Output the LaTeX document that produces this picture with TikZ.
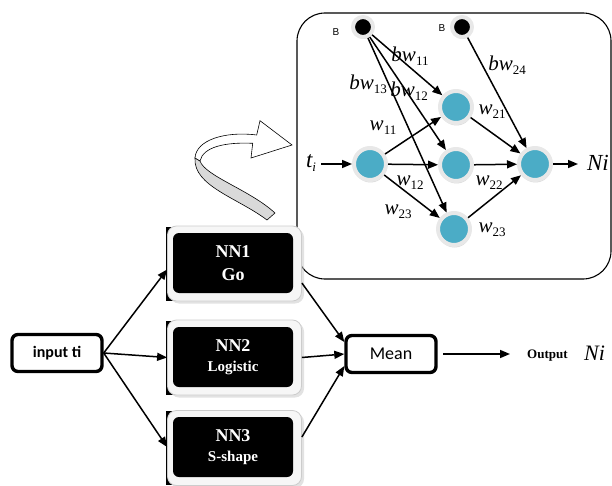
\documentclass[tikz,border=0pt]{standalone}
\usepackage{fontspec}
\setmainfont{Liberation Serif}
\newfontfamily\carl{Carlito}
\newfontfamily\arl{Liberation Sans}
\usetikzlibrary{arrows.meta,shadows}
\definecolor{nncyan}{RGB}{75,172,198}
\definecolor{ringgray}{RGB}{232,232,232}
\newcommand{\wl}[2]{{\itshape #1}\raisebox{-0.4ex}{\fontsize{13}{13}\selectfont #2}}
\begin{document}
\begin{tikzpicture}[x=1pt,y=-1pt,
  arr/.style={-{Triangle[length=10pt,width=8pt]}, line width=1.5pt},
  neuron/.style={circle, fill=nncyan, draw=ringgray, line width=4pt, minimum size=32pt, inner sep=0pt,
     drop shadow={shadow xshift=0.5pt, shadow yshift=-2.5pt, fill=gray!60}},
  bias/.style={circle, fill=black, draw=ringgray, line width=4pt, minimum size=20pt, inner sep=0pt,
     drop shadow={shadow xshift=0.5pt, shadow yshift=-2pt, fill=gray!60}},
  lab/.style={inner sep=0pt, font=\fontsize{21}{21}\selectfont},
  blab/.style={inner sep=0pt, font=\arl\fontsize{10}{10}\selectfont},
  thickbox/.style={draw, line width=3.4pt, rounded corners=6pt, minimum width=90pt, minimum height=37pt, inner sep=0pt},
  nnouter/.style={draw=gray!40, fill=gray!7, line width=0.8pt, rounded corners=9pt, minimum width=134pt, minimum height=75pt,
     drop shadow={shadow xshift=2.5pt, shadow yshift=-2.5pt, fill=gray!45}},
  nninner/.style={fill=black, rounded corners=6pt, minimum width=120pt, minimum height=60pt, inner sep=0pt,
     text=white, align=center, font=\bfseries\fontsize{18}{20}\selectfont},
]
\useasboundingbox (0,0) rectangle (612,486);

% ---------- panel ----------
\node[draw, line width=1.1pt, rounded corners=28pt, minimum width=314pt, minimum height=266pt] (panel) at (454,146) {};

% curved arrow
\filldraw[fill=gray!30, draw=black, line width=0.6pt]
  (195,158) .. controls (193,186) and (238,198) .. (267,220)
  -- (275,213) .. controls (250,190) and (205,176) .. (200,161) -- cycle;
\filldraw[fill=white, draw=black, line width=0.6pt]
  (200,161) .. controls (203,147) and (225,142) .. (252.7,143.3)
  -- (251,158) -- (292,145) -- (260,120.7) -- (256.7,135)
  .. controls (225,131) and (196,140) .. (195,158) -- cycle;

% neurons
\node[bias] (B1) at (363,27) {};
\node[bias] (B2) at (462,27) {};
\node[neuron] (I) at (370,164) {};
\node[neuron] (H1) at (456,107) {};
\node[neuron] (H2) at (456,165) {};
\node[neuron] (H3) at (454,229) {};
\node[neuron] (O) at (535,164) {};

\node[blab] (bl1) at (336,32) {B};
\node[blab] (bl2) at (442,28) {B};
\node[lab, font=\fontsize{23}{23}\selectfont] (ti) at (311,163) {\wl{t}{\itshape i}};
\node[lab, font=\fontsize{23}{23}\selectfont] (Ni) at (598,163) {\itshape Ni};
\coordinate (tiE) at (321,164);
\coordinate (NiW) at (578,164);

% connectors
\draw[arr] (tiE) -- (I);
\draw[arr] (O) -- (NiW);
\foreach \h in {H1,H2,H3} {
  \draw[arr] (I) -- (\h);
  \draw[arr] (B1) -- (\h);
  \draw[arr] (\h) -- (O);
}
\draw[arr] (B2) -- (O);

% labels
\node[lab] (lbw11) at (410,56) {\wl{bw}{11}};
\node[lab] (lbw13) at (368,84) {\wl{bw}{13}};
\node[lab] (lbw12) at (409,91) {\wl{bw}{12}};
\node[lab] (lbw24) at (507,65) {\wl{bw}{24}};
\node[lab] (lw11) at (383,128) {\wl{w}{11}};
\node[lab] (lw12) at (410,183) {\wl{w}{12}};
\node[lab] (lw23a) at (398,212) {\wl{w}{23}};
\node[lab] (lw21) at (492,112) {\wl{w}{21}};
\node[lab] (lw22) at (489,183) {\wl{w}{22}};
\node[lab] (lw23b) at (492,230) {\wl{w}{23}};

% ---------- lower part ----------
\node[thickbox, font=\carl\bfseries\fontsize{16}{16}\selectfont] (in) at (57,353) {input ti};
\node[thickbox, font=\carl\fontsize{18}{18}\selectfont, minimum width=90pt] (mean) at (391,354) {Mean};

\foreach \n/\yy in {1/263.5, 2/357.5, 3/448} {
  \fill (166,\yy-37) rectangle (180,\yy+37);
}
\node[nnouter] (NN1) at (234.5,263.5) {};
\node[nnouter] (NN2) at (234.5,357.5) {};
\node[nnouter] (NN3) at (234.5,448) {};
\node[nninner] (NN1i) at (233,263) {NN1\\[3pt] Go};
\node[nninner] (NN2i) at (233,357) {NN2\\ {\fontsize{15}{20}\selectfont Logistic}};
\node[nninner] (NN3i) at (233,447) {NN3\\ {\fontsize{15}{20}\selectfont S-shape}};

\draw[arr] (in.east) -- ([yshift=-6pt]NN1.west);
\draw[arr] (in.east) -- (NN2.west);
\draw[arr] (in.east) -- ([yshift=1pt]NN3.west);
\draw[arr] ([yshift=-19.5pt]NN1.east) -- ([yshift=12pt]mean.west);
\draw[arr] (NN2.east) -- (mean.west);
\draw[arr] ([yshift=11pt]NN3.east) -- ([yshift=-12pt]mean.west);

\coordinate (meanout) at (443,354);
\coordinate (outtip) at (510,354);
\draw[arr] (meanout) -- (outtip);
\node[inner sep=0pt, anchor=west, font=\bfseries\fontsize{13}{13}\selectfont] (outl) at (527,356) {Output};
\node[inner sep=0pt, anchor=west, font=\itshape\fontsize{22}{22}\selectfont] (outNi) at (584,353) {Ni};
\end{tikzpicture}
\end{document}
